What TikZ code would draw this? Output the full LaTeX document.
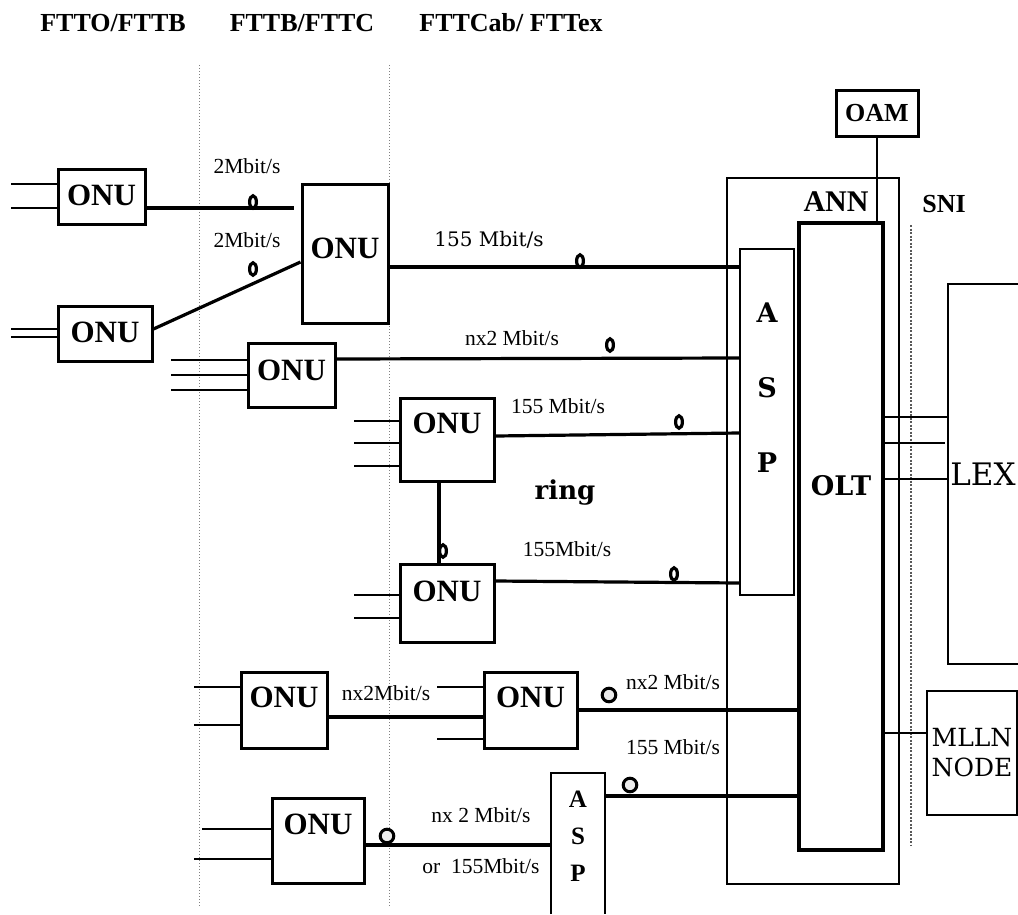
\documentclass[tikz,border=0pt]{standalone}
\usepackage{fontspec}
\setmainfont{Liberation Serif}
\newfontfamily\dvfont{DejaVu Serif}
\begin{document}
\begin{tikzpicture}[x=1pt,y=-1pt,
    every node/.style={inner sep=0pt},
    box/.style={draw,line width=2pt},
    onu/.style={draw,line width=3pt,anchor=base,
        font=\fontsize{31}{31}\selectfont\bfseries},
    lbl/.style={font=\fontsize{21.5}{21.5}\selectfont},
    head/.style={font=\fontsize{26}{26}\selectfont\bfseries},
    link/.style={line width=3.2pt},
    stub/.style={line width=1.8pt},
    wire/.style={line width=2pt},
    zone/.style={gray,dotted,line width=1pt},
    fibre/.style={line width=3.2pt,fill=white},
    tap/.style={line width=3pt,fill=gray!15}]
    \useasboundingbox (0,0) rectangle (1018,914);
    \node[head] (hd1) at (113,23) {FTTO/FTTB};
    \node[head] (hd2) at (302,23) {FTTB/FTTC};
    \node[head] (hd3) at (511,23) {FTTCab/ FTTex};
    \draw[zone] (199,65) -- (199,907);
    \draw[zone] (389,65) -- (389,907);
    \node[box,minimum width=172pt,minimum height=706pt] (ann) at (813,531) {};
    \node[font=\fontsize{30}{30}\selectfont\bfseries] (anntext) at (836,202) {ANN};
    \node[font=\fontsize{26}{26}\selectfont\bfseries] (sni) at (944,204) {SNI};
    \draw[gray!70!black,line width=1.5pt,dash pattern=on 2pt off 1.5pt]
        (911,225) -- (911,845);
    \node[onu,minimum width=87pt,text height=36pt,text depth=19pt] (onu1) at (101.5,205) {ONU};
    \node[onu,minimum width=86pt,text height=74pt,text depth=65pt] (onu2) at (345,258) {ONU};
    \node[onu,minimum width=94pt,text height=36pt,text depth=19pt] (onu3) at (105,342) {ONU};
    \node[onu,minimum width=87pt,text height=37pt,text depth=27pt] (onu4) at (291.5,380) {ONU};
    \node[onu,minimum width=94pt,text height=35pt,text depth=48pt] (onu5) at (447,433) {ONU};
    \node[onu,minimum width=94pt,text height=37pt,text depth=41pt] (onu6) at (447,601) {ONU};
    \node[onu,minimum width=86pt,text height=35pt,text depth=41pt] (onu7) at (284,707) {ONU};
    \node[onu,minimum width=93pt,text height=35pt,text depth=41pt] (onu8) at (530.5,707) {ONU};
    \node[onu,minimum width=92pt,text height=36pt,text depth=49pt] (onu9) at (318,834) {ONU};
    \node[draw,line width=3pt,minimum width=82pt,minimum height=46pt,
        font=\fontsize{26}{26}\selectfont\bfseries] (oam) at (877,113) {OAM};
    \node[draw,line width=3.5pt,anchor=base,minimum width=84pt,text height=272pt,
        text depth=355pt,font=\dvfont\bfseries\fontsize{27}{27}\selectfont] (olt) at (841,495) {OLT};
    \node[box,minimum width=54pt,minimum height=346pt] (asp) at (767,422) {};
    \node[align=center,font=\dvfont\bfseries\fontsize{27}{75}\selectfont] (asptext) at (767,388) {A\\S\\P};
    \node[outer sep=0pt,minimum width=54pt,minimum height=141pt] (asp2) at (578,843.5) {};
    \draw[line width=2.5pt] (asp2.south west) -- (asp2.north west)
        -- (asp2.north east) -- (asp2.south east);
    \node[align=center,font=\bfseries\fontsize{25}{37}\selectfont] (asp2text) at (578,836) {A\\S\\P};
    \node[outer sep=0pt,minimum width=70pt,minimum height=380pt,
        font=\dvfont\fontsize{31}{31}\selectfont] (lex) at (983,474) {LEX};
    \draw[wire] (lex.north east) -- (lex.north west) -- (lex.south west) -- (lex.south east);
    \node[box,minimum width=90pt,minimum height=124pt,align=center,
        font=\dvfont\fontsize{25}{30}\selectfont] (mlln) at (972,753) {MLLN\\NODE};
    \draw[stub] (onu1.west |- 0,184) -- ++(-46,0);
    \draw[stub] (onu1.west |- 0,208) -- ++(-46,0);
    \draw[stub] (onu3.west |- 0,329) -- ++(-46,0);
    \draw[stub] (onu3.west |- 0,337) -- ++(-46,0);
    \draw[stub] (onu4.west |- 0,360) -- ++(-76,0);
    \draw[stub] (onu4.west |- 0,375) -- ++(-76,0);
    \draw[stub] (onu4.west |- 0,390) -- ++(-76,0);
    \draw[stub] (onu5.west |- 0,421) -- ++(-45,0);
    \draw[stub] (onu5.west |- 0,443) -- ++(-45,0);
    \draw[stub] (onu5.west |- 0,466) -- ++(-45,0);
    \draw[stub] (onu6.west |- 0,595) -- ++(-45,0);
    \draw[stub] (onu6.west |- 0,618) -- ++(-45,0);
    \draw[stub] (onu7.west |- 0,687) -- ++(-46,0);
    \draw[stub] (onu7.west |- 0,725) -- ++(-46,0);
    \draw[stub] (onu8.west |- 0,687) -- ++(-46,0);
    \draw[stub] (onu8.west |- 0,739) -- ++(-46,0);
    \draw[stub] (onu9.west |- 0,829) -- ++(-69,0);
    \draw[stub] (onu9.west |- 0,859) -- ++(-77,0);
    \draw[link] (onu1.east |- 0,208) -- ([xshift=-7pt]onu2.west |- 0,208);
    \draw[link] (onu3.east |- 0,329) -- (onu2.west |- 0,262);
    \draw[link] (onu2.east |- 0,267) -- (asp.west |- 0,267);
    \draw[link] (onu4.east |- 0,359) -- (asp.west |- 0,358);
    \draw[link] (onu5.east |- 0,436) -- (asp.west |- 0,433);
    \draw[link,line width=3.5pt] ([xshift=-8pt]onu5.south) -- ([xshift=-8pt]onu6.north);
    \draw[link] (onu6.east |- 0,581) -- (asp.west |- 0,583);
    \draw[link] (onu7.east |- 0,717) -- (onu8.west |- 0,717);
    \draw[link] (onu8.east |- 0,710) -- (olt.west |- 0,710);
    \draw[link] (asp2.east |- 0,796) -- (olt.west |- 0,796);
    \draw[link] (onu9.east |- 0,845) -- (asp2.west |- 0,845);
    \draw[wire] (oam.south) -- (oam.south |- olt.north);
    \draw[wire] (olt.east |- 0,417) -- (lex.west |- 0,417);
    \draw[wire] (olt.east |- 0,443) -- ([xshift=-3pt]lex.west |- 0,443);
    \draw[wire] (olt.east |- 0,479) -- (lex.west |- 0,479);
    \draw[wire] (olt.east |- 0,733) -- (mlln.west |- 0,733);
    \foreach \x/\y in {253/202,253/269,580/261,610/345,679/422,443/551,674/574}
        \draw[fibre] (\x,\y) ellipse [x radius=3.4pt,y radius=6.2pt];
    \foreach \x/\y in {609/695,630/785,387/836}
        \draw[tap] (\x,\y) circle [radius=6.8pt];
    \node[lbl] (r1) at (247,166) {2Mbit/s};
    \node[lbl] (r2) at (247,240) {2Mbit/s};
    \node[font=\dvfont\fontsize{20}{20}\selectfont] (r3) at (489,240) {155 Mbit/s};
    \node[lbl] (r4) at (512,338) {nx2 Mbit/s};
    \node[lbl] (r5) at (558,406) {155 Mbit/s};
    \node[lbl] (r6) at (567,549) {155Mbit/s};
    \node[lbl] (r7) at (386,693) {nx2Mbit/s};
    \node[lbl] (r8) at (673,682) {nx2 Mbit/s};
    \node[lbl] (r9) at (673,747) {155 Mbit/s};
    \node[lbl] (r10) at (481,815) {nx 2 Mbit/s};
    \node[lbl] (r11) at (481,866) {or~ 155Mbit/s};
    \node[font=\dvfont\bfseries\fontsize{26}{26}\selectfont] (ring) at (565,493) {ring};
\end{tikzpicture}
\end{document}
